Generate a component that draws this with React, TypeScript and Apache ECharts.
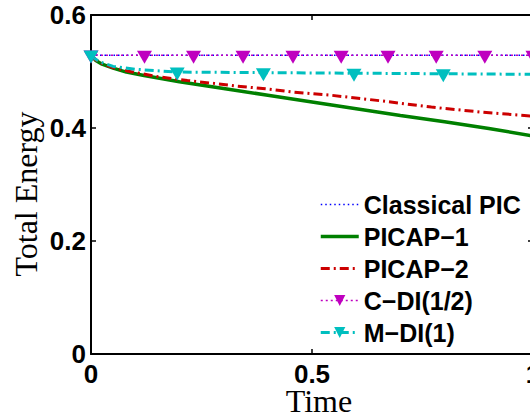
import React, { useEffect, useRef } from 'react';
import * as echarts from 'echarts';

const seriesNames = ['Classical PIC', 'PICAP−1', 'PICAP−2', 'C−DI(1/2)', 'M−DI(1)'];

const classicalTime = [0, 0.1, 0.2, 0.3, 0.4, 0.5, 0.6, 0.7, 0.8, 0.9, 1.0];
const classicalEnergy = [0.529, 0.5288, 0.5289, 0.5287, 0.5288, 0.5289, 0.5287, 0.5288, 0.5287, 0.5288, 0.5287];

const picap1Time = [0, 0.01, 0.025, 0.05, 0.08, 0.12, 0.2, 0.3, 0.4, 0.5, 0.6, 0.7, 0.8, 0.9, 1.0];
const picap1Energy = [0.529, 0.52, 0.513, 0.506, 0.499, 0.493, 0.482, 0.47, 0.458, 0.446, 0.434, 0.422, 0.411, 0.399, 0.386];

const picap2Time = [0, 0.01, 0.025, 0.05, 0.082, 0.15, 0.218, 0.277, 0.332, 0.4, 0.452, 0.543, 0.657, 0.77, 0.884, 1.0];
const picap2Energy = [0.529, 0.521, 0.514, 0.507, 0.501, 0.491, 0.484, 0.479, 0.474, 0.469, 0.464, 0.458, 0.448, 0.437, 0.428, 0.421];

const cdiTime = [0, 0.121, 0.232, 0.344, 0.457, 0.566, 0.672, 0.781, 0.891, 1.0];
const cdiEnergy = [0.529, 0.5289, 0.5289, 0.5288, 0.5288, 0.5288, 0.5287, 0.5287, 0.5287, 0.5286];

const mdiTime = [0, 0.01, 0.02, 0.05, 0.1, 0.195, 0.39, 0.595, 0.797, 1.0];
const mdiEnergy = [0.529, 0.522, 0.517, 0.509, 0.504, 0.499, 0.498, 0.497, 0.496, 0.495];
const mdiMarkerTimes = [0, 0.195, 0.39, 0.595, 0.797];

const xTicks = { min: 0, max: 1, interval: 0.5 };
const yTicks = { min: 0, max: 0.6, interval: 0.2 };

const tri = 'path://M0,0L10,0L5,9Z';
const sansBold = { fontFamily: 'Liberation Sans', fontWeight: 'bold' as const, color: '#000' };

function pairs(t: number[], e: number[]) {
  return t.map((x, i) => [x, e[i]]);
}

export default function App() {
  const ref = useRef<HTMLDivElement>(null);
  useEffect(() => {
    if (!ref.current) return;
    const chart = echarts.init(ref.current, undefined, { renderer: 'svg' });
    const axisLine = { show: true, onZero: false, lineStyle: { color: '#000', width: 2 } };
    const axisTick = { show: true, inside: true, length: 5, lineStyle: { color: '#000', width: 1.5 } };
    chart.setOption({
      animation: false,
      backgroundColor: '#fff',
      grid: { left: 91, top: 15, width: 442, height: 339, containLabel: false },
      xAxis: [
        {
          type: 'value', ...xTicks, position: 'bottom', axisLine, axisTick,
          splitLine: { show: false },
          axisLabel: { ...sansBold, fontSize: 26, margin: 7 },
        },
        {
          type: 'value', ...xTicks, position: 'top', axisLine, axisTick,
          splitLine: { show: false }, axisLabel: { show: false },
        },
      ],
      yAxis: [
        {
          type: 'value', ...yTicks, position: 'left', axisLine, axisTick,
          splitLine: { show: false },
          axisLabel: { ...sansBold, fontSize: 26, margin: 5 },
        },
        {
          type: 'value', ...yTicks, position: 'right', axisLine, axisTick,
          splitLine: { show: false }, axisLabel: { show: false },
        },
      ],
      legend: {
        orient: 'vertical', left: 319, top: 192, padding: 0,
        itemWidth: 38, itemHeight: 14, itemGap: 7,
        textStyle: { ...sansBold, fontSize: 25, lineHeight: 24 },
        data: [
          { name: seriesNames[0], itemStyle: { opacity: 0 }, lineStyle: { width: 1.5 } },
          { name: seriesNames[1], itemStyle: { opacity: 0 }, lineStyle: { width: 3.5 } },
          { name: seriesNames[2], itemStyle: { opacity: 0 }, lineStyle: { width: 3 } },
          { name: seriesNames[3], lineStyle: { width: 1.5 } },
          { name: seriesNames[4], lineStyle: { width: 3 } },
        ],
      },
      graphic: [
        {
          type: 'text', x: 26, y: 194, rotation: Math.PI / 2,
          style: { text: 'Total Energy', font: '32px "Liberation Serif"', fill: '#000', align: 'center', verticalAlign: 'middle' },
        },
        {
          type: 'text', x: 319, y: 401,
          style: { text: 'Time', font: '32px "Liberation Serif"', fill: '#000', align: 'center', verticalAlign: 'middle' },
        },
      ],
      series: [
        {
          name: seriesNames[0], type: 'line', symbol: 'none', showSymbol: false,
          lineStyle: { color: '#0000ff', width: 1.5, type: [1.5, 3] },
          itemStyle: { color: '#0000ff' },
          data: pairs(classicalTime, classicalEnergy),
        },
        {
          name: seriesNames[1], type: 'line', symbol: 'none', showSymbol: false,
          lineStyle: { color: '#008000', width: 3.5 },
          itemStyle: { color: '#008000' },
          data: pairs(picap1Time, picap1Energy),
        },
        {
          name: seriesNames[2], type: 'line', symbol: 'none', showSymbol: false,
          lineStyle: { color: '#cc0000', width: 3, type: [9, 4, 2, 4] },
          itemStyle: { color: '#cc0000' },
          data: pairs(picap2Time, picap2Energy),
        },
        {
          name: seriesNames[3], type: 'line', symbol: tri, showSymbol: true, symbolSize: [15, 13], symbolOffset: [0, 2],
          lineStyle: { color: '#bf00bf', width: 1.5, type: [2, 3] },
          itemStyle: { color: '#bf00bf' },
          data: pairs(cdiTime, cdiEnergy),
        },
        {
          name: seriesNames[4], type: 'line', symbol: tri, showSymbol: true, symbolSize: [15, 13], symbolOffset: [0, 2],
          lineStyle: { color: '#00bfbf', width: 3, type: [9, 4, 2, 4] },
          itemStyle: { color: '#00bfbf' },
          data: mdiTime.map((x, i) => (mdiMarkerTimes.includes(x)
            ? { value: [x, mdiEnergy[i]] }
            : { value: [x, mdiEnergy[i]], symbol: 'none' })),
        },
      ],
    });
    return () => chart.dispose();
  }, []);
  return (
    <div style={{ position: 'fixed', left: 0, top: 0, width: 530, height: 418, overflow: 'hidden', background: '#fff' }}>
      <div ref={ref} style={{ width: 640, height: 418 }} />
    </div>
  );
}
